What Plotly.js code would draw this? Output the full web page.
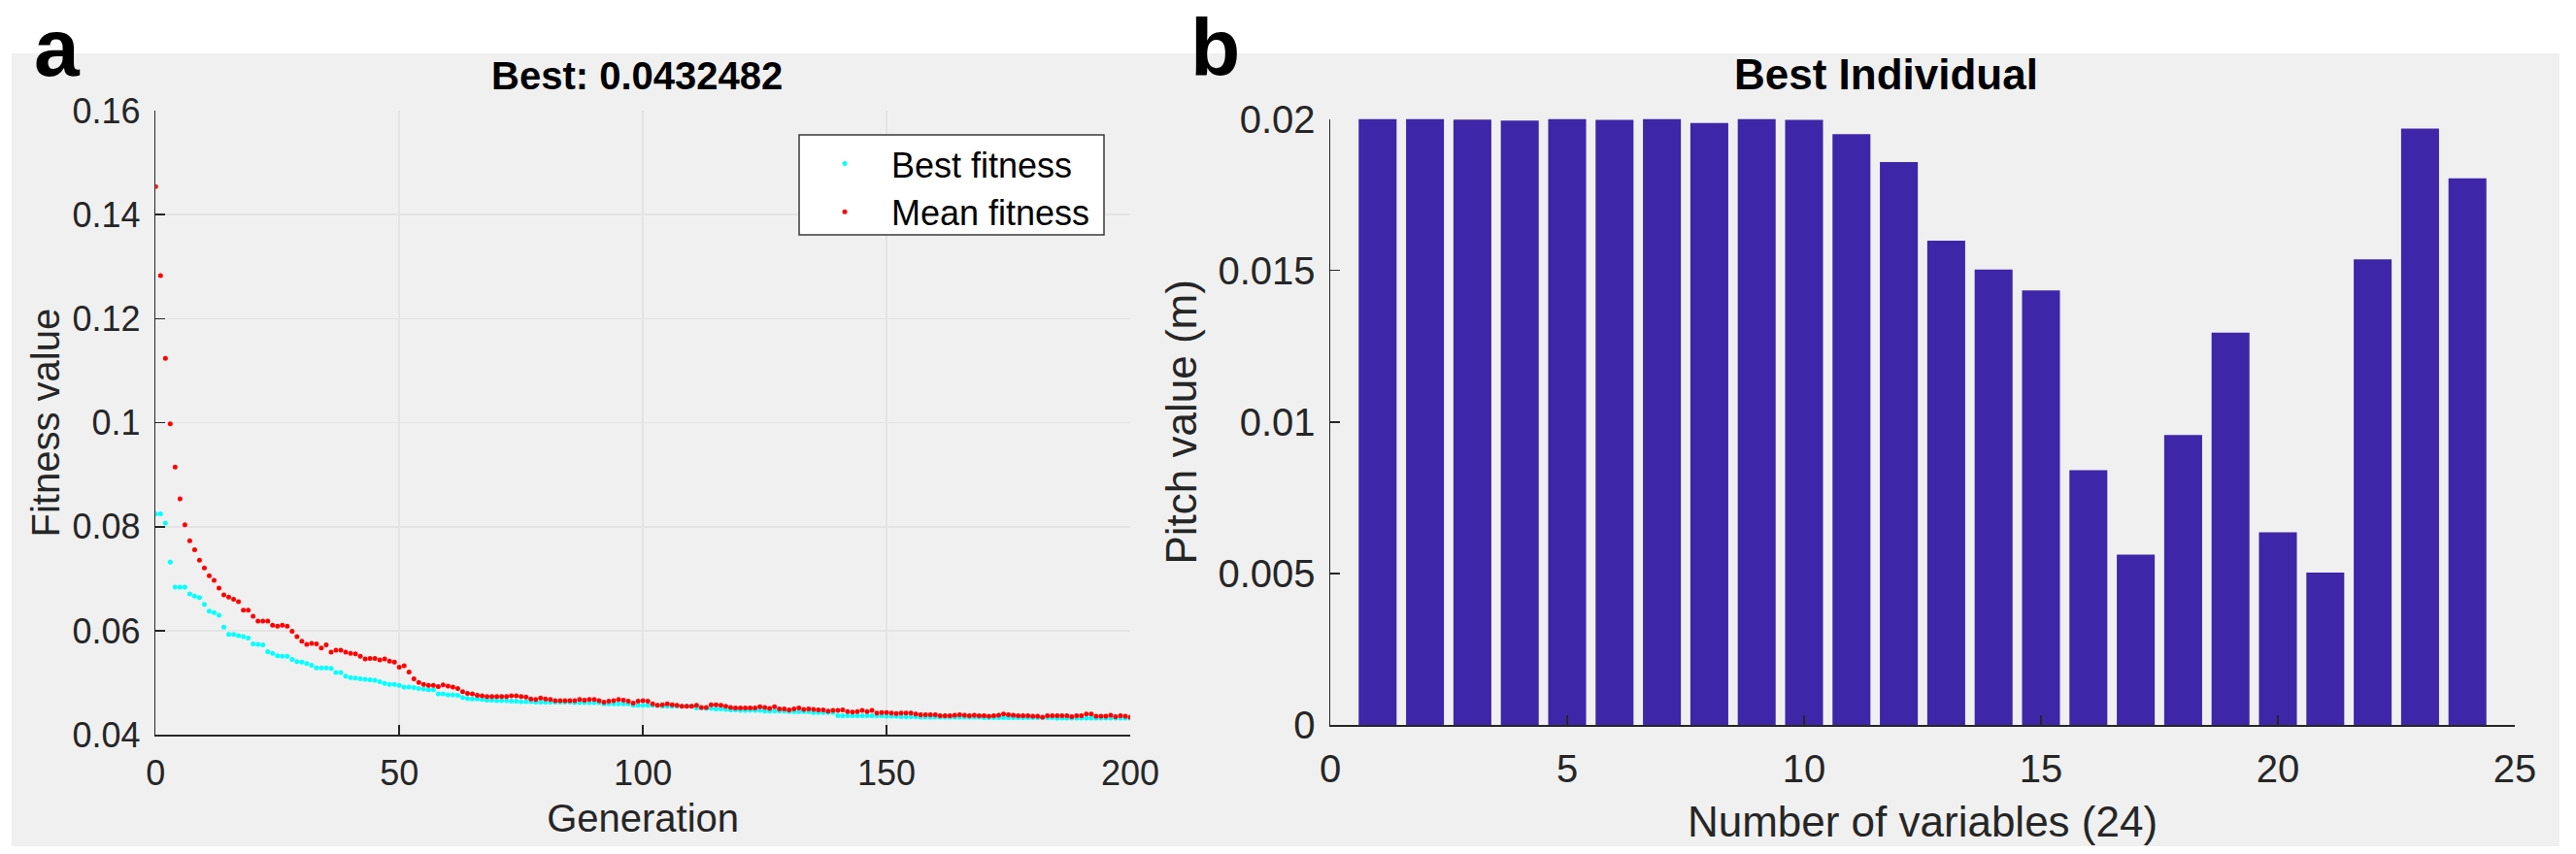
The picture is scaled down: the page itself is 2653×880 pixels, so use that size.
<!DOCTYPE html>
<html>
<head>
<meta charset="utf-8">
<script src="https://cdn.plot.ly/plotly-3.0.1.min.js"></script>
<style>
  html, body { margin: 0; padding: 0; background: #ffffff; }
  #chart { width: 2653px; height: 880px; }
</style>
</head>
<body>
<div id="chart"></div>
<script>
// ---------- Panel a: GA fitness per generation ----------
var bestFitness = [
  0.0825, 0.0825, 0.0807, 0.0732, 0.0684, 0.0684, 0.0684, 0.0671, 0.0667, 0.0664,
  0.0651, 0.0638, 0.0635, 0.0630, 0.0607, 0.0593, 0.0593, 0.0591, 0.0589, 0.0586,
  0.0575, 0.0574, 0.0573, 0.0560, 0.0557, 0.0552, 0.0551, 0.0551, 0.0545, 0.0541,
  0.0540, 0.0537, 0.0534, 0.0529, 0.0529, 0.0529, 0.0528, 0.0520, 0.0520, 0.0513,
  0.0510, 0.0509, 0.0508, 0.0507, 0.0506, 0.0505, 0.0502, 0.0499, 0.0497, 0.0497,
  0.0495, 0.0492, 0.0492, 0.0491, 0.0489, 0.0488, 0.0487, 0.0487, 0.0479, 0.0479,
  0.0477, 0.0477, 0.0476, 0.0472, 0.0470, 0.0469, 0.0469, 0.0468, 0.0467, 0.0467,
  0.0466, 0.0466, 0.0466, 0.0465, 0.0465, 0.0464, 0.0464, 0.0464, 0.0463, 0.0463,
  0.0463, 0.0463, 0.0463, 0.0463, 0.0463, 0.0463, 0.0462, 0.0462, 0.0462, 0.0462,
  0.0462, 0.0462, 0.0460, 0.0460, 0.0460, 0.0460, 0.0460, 0.0460, 0.0457, 0.0457,
  0.0457, 0.0457, 0.0457, 0.0457, 0.0455, 0.0455, 0.0455, 0.0455, 0.0455, 0.0455,
  0.0455, 0.0452, 0.0452, 0.0451, 0.0451, 0.0450, 0.0450, 0.0449, 0.0448, 0.0448,
  0.0447, 0.0447, 0.0447, 0.0447, 0.0447, 0.0446, 0.0446, 0.0446, 0.0446, 0.0446,
  0.0445, 0.0445, 0.0445, 0.0445, 0.0445, 0.0443, 0.0443, 0.0443, 0.0443, 0.0443,
  0.0437, 0.0437, 0.0437, 0.0437, 0.0437, 0.0437, 0.0437, 0.0437, 0.0437, 0.0437,
  0.0436, 0.0436, 0.0436, 0.0435, 0.0435, 0.0435, 0.0435, 0.0434, 0.0434, 0.0434,
  0.0434, 0.0434, 0.0434, 0.0434, 0.0434, 0.0434, 0.0434, 0.0434, 0.0434, 0.0434,
  0.0433, 0.0433, 0.0433, 0.0433, 0.0433, 0.0433, 0.0433, 0.0433, 0.0433, 0.0433,
  0.0433, 0.0433, 0.0433, 0.0433, 0.0433, 0.04325, 0.04325, 0.04325, 0.04325, 0.04325,
  0.04325, 0.04325, 0.04325, 0.04325, 0.04325, 0.04325, 0.04325, 0.04325, 0.04325, 0.04325,
  0.04325
];
var meanFitness = [
  0.1454, 0.1283, 0.1124, 0.0998, 0.0915, 0.0854, 0.0804, 0.0773, 0.0756, 0.0736,
  0.0721, 0.0706, 0.0697, 0.0682, 0.0669, 0.0665, 0.0661, 0.0656, 0.0640, 0.0640,
  0.0628, 0.0619, 0.0619, 0.0619, 0.0611, 0.0609, 0.0611, 0.0609, 0.0599, 0.0589,
  0.0580, 0.0574, 0.0576, 0.0575, 0.0567, 0.0573, 0.0559, 0.0563, 0.0563, 0.0559,
  0.0557, 0.0556, 0.0551, 0.0546, 0.0547, 0.0547, 0.0544, 0.0546, 0.0542, 0.0540,
  0.0530, 0.0533, 0.0521, 0.0508, 0.0501, 0.0497, 0.0495, 0.0495, 0.0493, 0.0496,
  0.0494, 0.0492, 0.0489, 0.0483, 0.0480, 0.0479, 0.0476, 0.0475, 0.0474, 0.0474,
  0.0474, 0.0474, 0.0474, 0.0475, 0.0475, 0.0474, 0.0473, 0.0469, 0.0468, 0.0471,
  0.0469, 0.0468, 0.0466, 0.0466, 0.0466, 0.0466, 0.0466, 0.0468, 0.0467, 0.0468,
  0.0468, 0.0466, 0.0463, 0.0465, 0.0466, 0.0468, 0.0467, 0.0465, 0.0461, 0.0465,
  0.0466, 0.0465, 0.0460, 0.0457, 0.0458, 0.0460, 0.0458, 0.0457, 0.0455, 0.0455,
  0.0455, 0.0457, 0.0453, 0.0453, 0.0458, 0.0458, 0.0457, 0.0455, 0.0453, 0.0452,
  0.0452, 0.0452, 0.0452, 0.0452, 0.0454, 0.0453, 0.0451, 0.0454, 0.0450, 0.0450,
  0.0448, 0.0450, 0.0452, 0.0449, 0.0450, 0.0449, 0.0448, 0.0448, 0.0446, 0.0447,
  0.0447, 0.0448, 0.0445, 0.0444, 0.0445, 0.0447, 0.0445, 0.0447, 0.0442, 0.0443,
  0.0443, 0.0442, 0.0441, 0.0442, 0.0442, 0.0442, 0.0440, 0.0439, 0.0439, 0.0439,
  0.0439, 0.0437, 0.0437, 0.0437, 0.0438, 0.0439, 0.0438, 0.0437, 0.0438, 0.0437,
  0.0437, 0.0436, 0.0437, 0.0438, 0.0440, 0.0439, 0.0438, 0.0437, 0.0437, 0.0437,
  0.0436, 0.0436, 0.0434, 0.0437, 0.0437, 0.0437, 0.0437, 0.0437, 0.0435, 0.0437,
  0.0437, 0.0440, 0.0440, 0.0436, 0.0436, 0.0436, 0.0438, 0.0435, 0.0437, 0.0436,
  0.0434
];
var generations = bestFitness.map(function (_, i) { return i; });

var genTickVals = [0, 50, 100, 150, 200];
var fitTickVals = [0.04, 0.06, 0.08, 0.10, 0.12, 0.14, 0.16];
var fitTickText = ["0.04", "0.06", "0.08", "0.1", "0.12", "0.14", "0.16"];

// ---------- Panel b: best individual ----------
var variables = [1, 2, 3, 4, 5, 6, 7, 8, 9, 10, 11, 12, 13, 14, 15, 16, 17, 18, 19, 20, 21, 22, 23, 24];
var pitchValues = [
  0.0200, 0.0200, 0.01998, 0.01995, 0.0200, 0.01997, 0.0200, 0.01987,
  0.0200, 0.01997, 0.01950, 0.01858, 0.01598, 0.01503, 0.01434, 0.00841,
  0.00562, 0.00957, 0.01295, 0.00636, 0.00503, 0.01537, 0.01968, 0.01804
];
var varTickVals = [0, 5, 10, 15, 20, 25];
var pitchTickVals = [0, 0.005, 0.01, 0.015, 0.02];
var pitchTickText = ["0", "0.005", "0.01", "0.015", "0.02"];

// ---------- geometry (pixels) ----------
var W = 2653, H = 880;
function px(x) { return x / W; }
function py(y) { return 1 - y / H; }

var FONT = "Liberation Sans, Arial, Helvetica, sans-serif";
var AX = "#262626";

var traces = [
  {
    x: generations, y: bestFitness, type: "scatter", mode: "markers",
    name: "Best fitness", xaxis: "x", yaxis: "y",
    marker: { color: "#00ffff", size: 5 }
  },
  {
    x: generations, y: meanFitness, type: "scatter", mode: "markers",
    name: "Mean fitness", xaxis: "x", yaxis: "y",
    marker: { color: "#ff0000", size: 5 }
  },
  {
    x: variables, y: pitchValues, type: "bar", width: 0.8,
    name: "Best Individual", xaxis: "x2", yaxis: "y2", showlegend: false,
    marker: { color: "#3e26a8", line: { width: 0 } }
  }
];

var commonAxis = {
  showline: true, linecolor: AX, linewidth: 1.5, mirror: false,
  ticks: "inside", ticklen: 10, tickwidth: 1.5, tickcolor: AX,
  zeroline: false, automargin: false, fixedrange: true
};

var layout = {
  width: W, height: H,
  margin: { l: 0, r: 0, t: 0, b: 0 },
  paper_bgcolor: "#ffffff",
  plot_bgcolor: "#ffffff",
  font: { family: FONT, color: AX },
  showlegend: true,
  legend: {
    x: px(822), y: py(138.6), xanchor: "left", yanchor: "top",
    bgcolor: "rgba(0,0,0,0)", borderwidth: 0,
    itemwidth: 86,
    font: { family: FONT, size: 36, color: "#000000" }
  },
  xaxis: Object.assign({}, commonAxis, {
    domain: [px(160.3), px(1164)], anchor: "y",
    range: [0, 200], tickvals: genTickVals,
    showgrid: true, gridcolor: "#e4e4e4", gridwidth: 1.5,
    tickfont: { family: FONT, size: 36, color: AX },
    ticklabelstandoff: 7,
    title: { text: "Generation", font: { family: FONT, size: 40, color: AX }, standoff: 13 }
  }),
  yaxis: Object.assign({}, commonAxis, {
    domain: [py(757.3), py(114)], anchor: "x",
    range: [0.04, 0.16], tickvals: fitTickVals, ticktext: fitTickText,
    showgrid: true, gridcolor: "#e4e4e4", gridwidth: 1.5,
    tickfont: { family: FONT, size: 36, color: AX },
    ticklabelstandoff: 7,
    title: { text: "Fitness value", font: { family: FONT, size: 40, color: AX }, standoff: 0 }
  }),
  xaxis2: Object.assign({}, commonAxis, {
    domain: [px(1370), px(2590)], anchor: "y2",
    range: [0, 25], tickvals: varTickVals,
    showgrid: false,
    tickfont: { family: FONT, size: 40, color: AX },
    ticklabelstandoff: 9,
    title: { text: "Number of variables (24)", font: { family: FONT, size: 44, color: AX }, standoff: 18 }
  }),
  yaxis2: Object.assign({}, commonAxis, {
    domain: [py(747), py(122.6)], anchor: "x2",
    range: [0, 0.02], tickvals: pitchTickVals, ticktext: pitchTickText,
    showgrid: false,
    tickfont: { family: FONT, size: 40, color: AX },
    ticklabelstandoff: 6,
    title: { text: "Pitch value (m)", font: { family: FONT, size: 44, color: AX }, standoff: 8 }
  }),
  bargap: 0.2,
  shapes: [
    { // figure grey background
      type: "rect", xref: "paper", yref: "paper", layer: "below",
      x0: px(12), x1: px(2636), y0: py(872), y1: py(55),
      fillcolor: "#f0f0f0", line: { width: 0 }
    },
    { // legend box
      type: "rect", xref: "paper", yref: "paper", layer: "above",
      x0: px(823), x1: px(1137), y0: py(242), y1: py(139),
      fillcolor: "#ffffff", line: { color: "#3a3a3a", width: 1.5 }
    }
  ],
  annotations: [
    {
      text: "<b>Best: 0.0432482</b>", xref: "paper", yref: "paper",
      x: px(656), y: py(78), xanchor: "center", yanchor: "middle",
      showarrow: false, font: { family: FONT, size: 40, color: "#000000" }
    },
    {
      text: "<b>Best Individual</b>", xref: "paper", yref: "paper",
      x: px(1942), y: py(76), xanchor: "center", yanchor: "middle",
      showarrow: false, font: { family: FONT, size: 44, color: "#000000" }
    },
    {
      text: "<b>a</b>", xref: "paper", yref: "paper",
      x: px(33), y: 1, xanchor: "left", yanchor: "top",
      showarrow: false, font: { family: FONT, size: 84, color: "#000000" }
    },
    {
      text: "<b>b</b>", xref: "paper", yref: "paper",
      x: px(1224), y: 1, xanchor: "left", yanchor: "top",
      showarrow: false, font: { family: FONT, size: 84, color: "#000000" }
    }
  ]
};

Plotly.newPlot("chart", traces, layout, { displayModeBar: false, staticPlot: true });
</script>
</body>
</html>
